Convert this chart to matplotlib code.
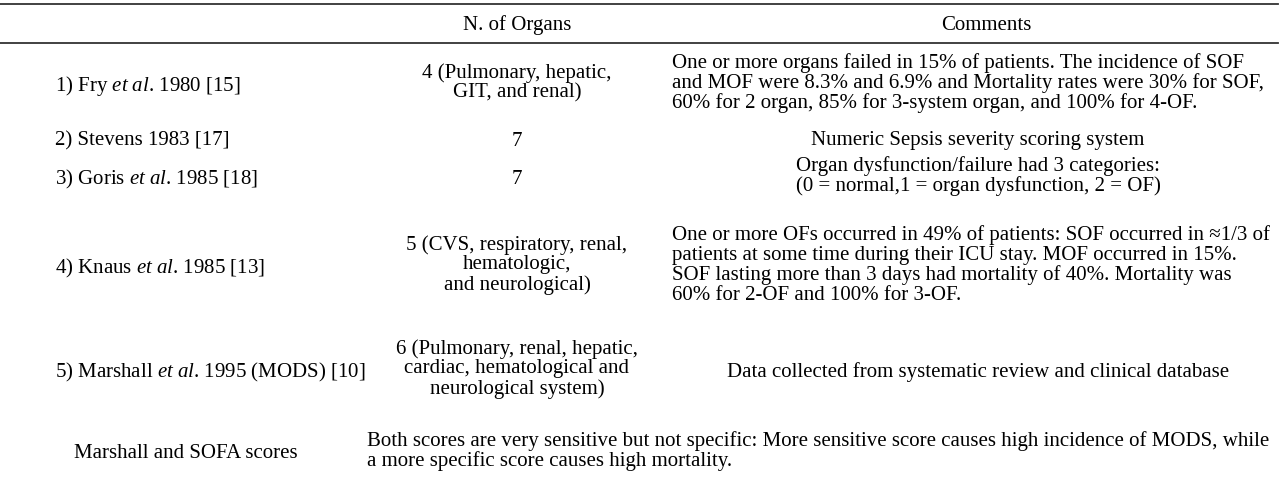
import matplotlib
matplotlib.use("Agg")
import matplotlib.pyplot as plt

plt.rcParams['font.family'] = ['Liberation Serif', 'DejaVu Serif']
plt.rcParams['mathtext.fontset'] = 'custom'
plt.rcParams['mathtext.rm'] = 'Liberation Serif'
plt.rcParams['mathtext.it'] = 'Liberation Serif:italic'

# Table content
headers = ["N. of Organs", "Comments"]
studies = [
    r"1) Fry $\mathit{et\ al}$. 1980 [15]",
    "2) Stevens 1983 [17]",
    r"3) Goris $\mathit{et\ al}$. 1985 [18]",
    r"4) Knaus $\mathit{et\ al}$. 1985 [13]",
    r"5) Marshall $\mathit{et\ al}$. 1995 (MODS) [10]",
]
n_organs = [
    "4 (Pulmonary, hepatic,\nGIT, and renal)",
    "7",
    "7",
    "5 (CVS, respiratory, renal,\nhematologic,\nand neurological)",
    "6 (Pulmonary, renal, hepatic,\ncardiac, hematological and\nneurological system)",
]
comments = [
    "One or more organs failed in 15% of patients. The incidence of SOF\n"
    "and MOF were 8.3% and 6.9% and Mortality rates were 30% for SOF,\n"
    "60% for 2 organ, 85% for 3-system organ, and 100% for 4-OF.",
    "Numeric Sepsis severity scoring system",
    "Organ dysfunction/failure had 3 categories:\n"
    "(0 = normal,1 = organ dysfunction, 2 = OF)",
    "One or more OFs occurred in 49% of patients: SOF occurred in \u22481/3 of\n"
    "patients at some time during their ICU stay. MOF occurred in 15%.\n"
    "SOF lasting more than 3 days had mortality of 40%. Mortality was\n"
    "60% for 2-OF and 100% for 3-OF.",
    "Data collected from systematic review and clinical database",
]
comment_left = [True, False, False, True, False]
footer_label = "Marshall and SOFA scores"
footer_text = ("Both scores are very sensitive but not specific: More sensitive score causes high incidence of MODS, while\n"
               "a more specific score causes high mortality.")

# layout (pixel coordinates)
W, H = 1282, 479
row_y = [84, 139, 177, 266, 370]
fs = 15
ls = 1.03


def shift(txt):
    # single lines sit a bit lower than matplotlib's centre
    return -1 if "\n" in txt else 2


fig = plt.figure(figsize=(W / 100, H / 100), dpi=100)
ax = fig.add_axes([0, 0, 1, 1])
ax.set_xlim(0, W)
ax.set_ylim(H, 0)
ax.axis("off")

ax.plot([0, 1278], [4, 4], color="#333333", lw=1.3)
ax.plot([0, 1278], [43, 43], color="#333333", lw=1.3)

ax.text(517, 23 + 2, headers[0], ha="center", va="center", fontsize=fs)
ax.text(986, 23 + 2, headers[1], ha="center", va="center", fontsize=fs)

for y, s, n, c, left in zip(row_y, studies, n_organs, comments, comment_left):
    ax.text(55, y + shift(s), s, ha="left", va="center", fontsize=fs)
    ax.text(517, y + shift(n), n, ha="center", va="center", fontsize=fs, linespacing=ls)
    if left:
        ax.text(672, y + shift(c), c, ha="left", va="center", fontsize=fs, linespacing=ls)
    else:
        ax.text(978, y + shift(c), c, ha="center", va="center", fontsize=fs,
                linespacing=ls, multialignment="center")

ax.text(186, 452 + 2, footer_label, ha="center", va="center", fontsize=fs)
ax.text(367, 452 - 1, footer_text, ha="left", va="center", fontsize=fs, linespacing=ls)

fig.savefig("out.png", dpi=100, facecolor="white")
